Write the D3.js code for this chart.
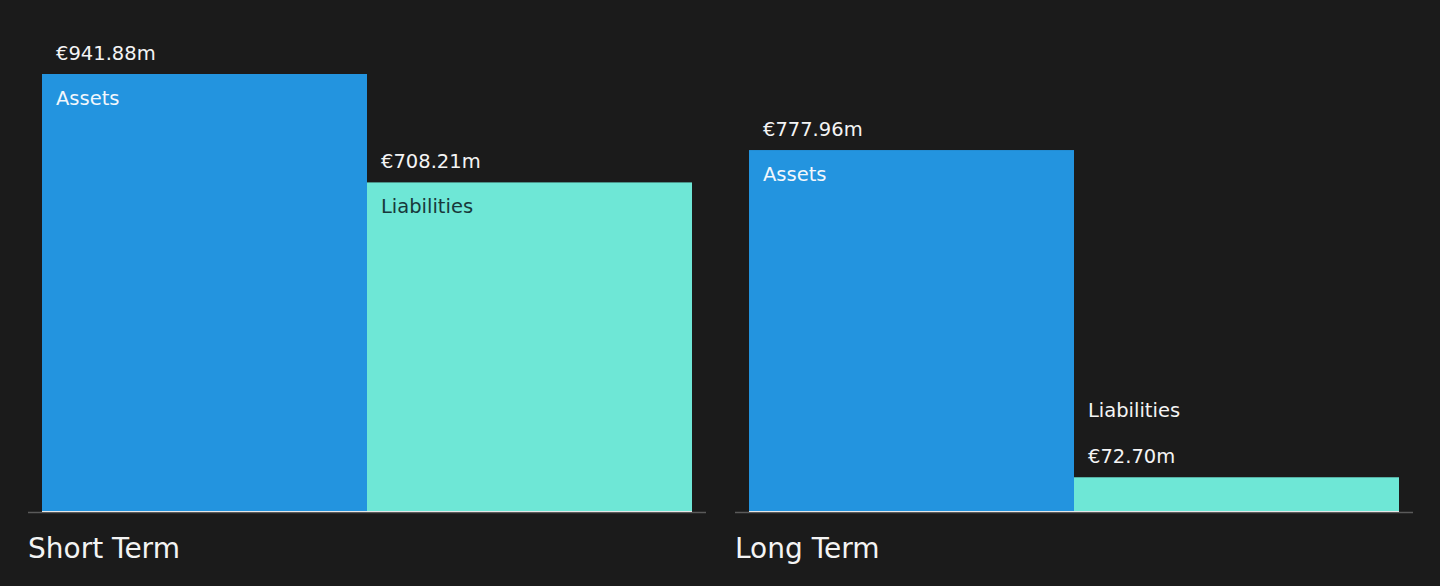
<!DOCTYPE html>
<html>
<head>
<meta charset="utf-8">
<script src="https://cdn.jsdelivr.net/npm/d3@7"></script>
<style>
  html, body { margin: 0; padding: 0; background: #1b1b1b; }
  svg { display: block; font-family: "DejaVu Sans", sans-serif; }
</style>
</head>
<body>
<div id="chart-area"></div>
<script>
// data
var categories = ["Short Term", "Long Term"];
var series = ["Assets", "Liabilities"];
var assets = [941.88, 777.96];
var liabilities = [708.21, 72.70];

var width = 1440, height = 586;
var baseline = 511;

var colors = { Assets: "#2394df", Liabilities: "#6ee7d6" };
var insideText = { Assets: "#f2f7fc", Liabilities: "#18383a" };

var rows = [];
categories.forEach(function (c, i) {
    rows.push({ cat: c, name: "Assets", value: assets[i] });
    rows.push({ cat: c, name: "Liabilities", value: liabilities[i] });
});

var svg = d3.select("#chart-area")
    .append("svg")
    .attr("width", width)
    .attr("height", height);

svg.append("rect")
    .attr("width", width)
    .attr("height", height)
    .attr("fill", "#1b1b1b");

// panel scale
var x0 = d3.scaleBand()
    .domain(categories)
    .range([28, 1413])
    .paddingInner(0.041);

// bar scale inside a panel
var x1 = d3.scaleBand()
    .domain(series)
    .range([14, x0.bandwidth() - 14]);

var y = d3.scaleLinear()
    .domain([0, d3.max(assets.concat(liabilities))])
    .range([baseline, 74]);

var panels = svg.selectAll("g.panel")
    .data(categories)
    .enter()
    .append("g")
    .attr("class", "panel")
    .attr("transform", function (d) { return "translate(" + x0(d) + ",0)"; });

// axis line
panels.append("line")
    .attr("x1", 0)
    .attr("x2", x0.bandwidth())
    .attr("y1", baseline + 1.5)
    .attr("y2", baseline + 1.5)
    .attr("stroke", "#5a5a5a")
    .attr("stroke-width", 1.5);

// category label
panels.append("text")
    .attr("x", 0)
    .attr("y", 558)
    .attr("font-size", "28px")
    .attr("fill", "#f4f4f4")
    .text(function (d) { return d; });

var bars = panels.selectAll("g.bar")
    .data(function (c) { return rows.filter(function (r) { return r.cat === c; }); })
    .enter()
    .append("g")
    .attr("class", "bar");

bars.append("rect")
    .attr("x", function (d) { return x1(d.name); })
    .attr("y", function (d) { return y(d.value); })
    .attr("width", x1.bandwidth())
    .attr("height", function (d) { return baseline - y(d.value); })
    .attr("fill", function (d) { return colors[d.name]; });

// thin light line under bars
panels.append("line")
    .attr("x1", x1.range()[0])
    .attr("x2", x1.range()[1])
    .attr("y1", baseline + 0.5)
    .attr("y2", baseline + 0.5)
    .attr("stroke", "#e6e6e6")
    .attr("stroke-width", 1);

function fits(d) { return baseline - y(d.value) > 60; }

// value labels
bars.append("text")
    .attr("x", function (d) { return x1(d.name) + 14; })
    .attr("y", function (d) { return y(d.value) - 14; })
    .attr("font-size", "19.5px")
    .attr("fill", "#f4f4f4")
    .text(function (d) { return "€" + d.value.toFixed(2) + "m"; });

// series labels
bars.append("text")
    .attr("x", function (d) { return x1(d.name) + 14; })
    .attr("y", function (d) { return fits(d) ? y(d.value) + 31 : y(d.value) - 60; })
    .attr("font-size", "19.5px")
    .attr("fill", function (d) { return fits(d) ? insideText[d.name] : "#f4f4f4"; })
    .text(function (d) { return d.name; });
</script>
</body>
</html>
